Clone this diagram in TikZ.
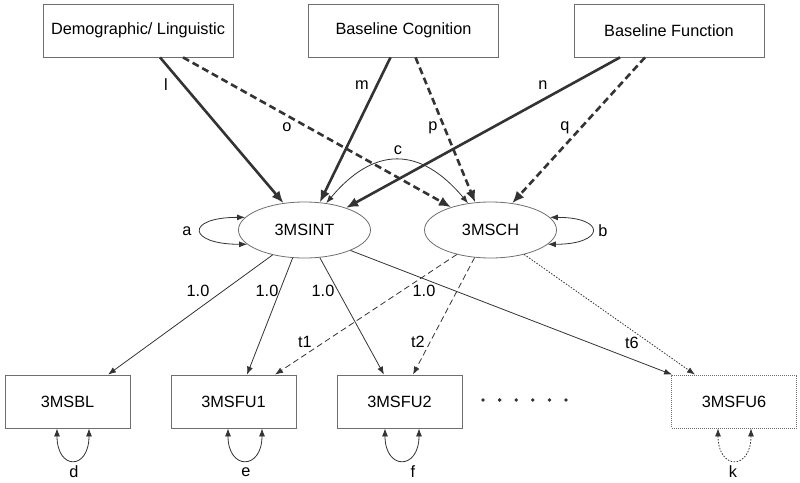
\documentclass[tikz,border=0pt]{standalone}
\usepackage{fontspec}
\setmainfont{Liberation Sans}
\usetikzlibrary{arrows.meta, shapes.geometric}
\definecolor{linegray}{HTML}{333333}
\definecolor{boxgray}{HTML}{6E6E6E}

\begin{document}
\begin{tikzpicture}[x=1pt, y=-1pt,
    font=\fontsize{16.3}{19}\selectfont,
    box/.style={draw=boxgray, line width=0.8pt, minimum width=190pt, minimum height=53pt, inner sep=0pt},
    obsbox/.style={box, minimum width=125pt},
    latent/.style={draw=boxgray, line width=0.8pt, ellipse, minimum width=132pt, minimum height=56pt, inner sep=0pt},
    bigpath/.style={draw=linegray, line width=2.6pt, -{Latex[length=12pt,width=10pt]}},
    bigdash/.style={bigpath, dash pattern=on 7pt off 4pt},
    smallpath/.style={draw=linegray, line width=0.8pt, -{Latex[length=8pt,width=6pt]}},
    smalldash/.style={smallpath, dash pattern=on 6pt off 3.5pt},
    smalldot/.style={smallpath, dash pattern=on 1.5pt off 1.5pt},
    loopy/.style={smallpath, {Latex[length=8pt,width=6pt]}-{Latex[length=8pt,width=6pt]}},
    lab/.style={inner sep=0pt}]

    % Fix the size of the page
    \useasboundingbox (0,0) rectangle (800,482);

    % Draw the three predictor boxes along the top
    \node[box] (demo) at (138,30.5) {Demographic/ Linguistic};
    \node[box] (cog) at (403.5,30.5) {Baseline Cognition};
    \node[box] (func) at (669,30.5) {Baseline Function};

    % Draw the two latent factors
    \node[latent] (int) at (304.5,230) {3MSINT};
    \node[latent] (ch) at (490.5,230) {3MSCH};

    % Draw the observed scores along the bottom
    \node[obsbox] (bl) at (67.5,401.5) {3MSBL};
    \node[obsbox] (fu1) at (233.5,401.5) {3MSFU1};
    \node[obsbox] (fu2) at (399.5,401.5) {3MSFU2};
    \node[obsbox, dash pattern=on 1pt off 1pt] (fu6) at (734,401.5) {3MSFU6};

    % Draw the dots standing for the missing follow ups
    \foreach \i in {0,...,5}
        \fill[linegray] (483+16.6*\i,400) circle (1.9);

    % Draw the paths from the predictors to the intercept
    \draw[bigpath] ([xshift=22pt]demo.south) -- (int.128);
    \draw[bigpath] ([xshift=-13pt]cog.south) -- (int.61);
    \draw[bigpath] ([xshift=-49pt]func.south) -- (int.28);

    % Draw the paths from the predictors to the change factor
    \draw[bigdash] ([xshift=45pt]demo.south) -- (ch.150);
    \draw[bigdash] ([xshift=12pt]cog.south) -- (ch.119);
    \draw[bigdash] ([xshift=-24pt]func.south) -- (ch.51);

    % Draw the covariance between the two factors
    \draw[loopy] (int.51) to[out=50, in=130, looseness=1.35] (ch.130);

    % Draw the variances of the two factors
    \draw[loopy] (int.168) .. controls +(-60,0) and +(-60,0) .. (int.194);
    \draw[loopy] (ch.12) .. controls +(57,0) and +(57,0) .. (ch.346);

    % Draw the loadings of the intercept
    \draw[smallpath] (int.218) -- ([xshift=40.5pt]bl.north);
    \draw[smallpath] (int.247) -- ([xshift=13.5pt]fu1.north);
    \draw[smallpath] (int.299) -- ([xshift=-15.5pt]fu2.north);
    \draw[smallpath] (int.336) -- ([xshift=1pt]fu6.north west);

    % Draw the loadings of the change factor
    \draw[smalldash] (ch.216) -- ([xshift=41.5pt]fu1.north);
    \draw[smalldash] (ch.240) -- ([xshift=13.5pt]fu2.north);
    \draw[smalldot] (ch.324) -- ([xshift=-39pt]fu6.north);

    % Draw the residual variances under the boxes
    \draw[loopy] ([xshift=-10.5pt]bl.south) .. controls +(0,42) and +(0,42) .. ([xshift=21.5pt]bl.south);
    \draw[loopy] ([xshift=-5.5pt]fu1.south) .. controls +(0,42) and +(0,42) .. ([xshift=28.5pt]fu1.south);
    \draw[loopy] ([xshift=-14.5pt]fu2.south) .. controls +(0,42) and +(0,42) .. ([xshift=19.5pt]fu2.south);
    \draw[loopy, dash pattern=on 1.5pt off 1.5pt] ([xshift=-16pt]fu6.south) .. controls +(0,42) and +(0,42) .. ([xshift=17pt]fu6.south);

    % Add the path labels
    \node[lab] (lab-l) at (166,85) {l};
    \node[lab] (lab-m) at (362,85) {m};
    \node[lab] (lab-n) at (543,85) {n};
    \node[lab] (lab-o) at (287,127) {o};
    \node[lab] (lab-p) at (433,128) {p};
    \node[lab] (lab-q) at (565,128) {q};
    \node[lab] (lab-c) at (398,150) {c};
    \node[lab] (lab-a) at (187,231) {a};
    \node[lab] (lab-b) at (603,231) {b};

    % Add the loading labels
    \node[lab] (lab-bl) at (198,291) {1.0};
    \node[lab] (lab-fu1) at (267,291) {1.0};
    \node[lab] (lab-fu2) at (323,291) {1.0};
    \node[lab] (lab-fu6) at (424,291) {1.0};
    \node[lab] (lab-t1) at (305,342) {t1};
    \node[lab] (lab-t2) at (418,342) {t2};
    \node[lab] (lab-t6) at (632,343) {t6};

    % Add the residual labels
    \node[lab] (lab-d) at (74,472) {d};
    \node[lab] (lab-e) at (246,472) {e};
    \node[lab] (lab-f) at (413,472) {f};
    \node[lab] (lab-k) at (733,472) {k};

\end{tikzpicture}
\end{document}
